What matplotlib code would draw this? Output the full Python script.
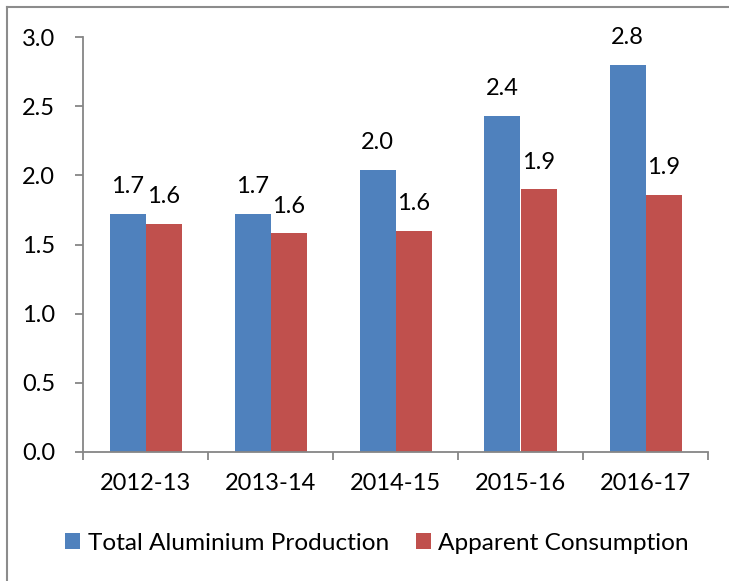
import numpy as np
import matplotlib.pyplot as plt
from matplotlib.lines import Line2D

plt.rcParams['font.family'] = ['Lato', 'DejaVu Sans']

# Data
years = ['2012-13', '2013-14', '2014-15', '2015-16', '2016-17']
production = [1.72, 1.72, 2.04, 2.43, 2.80]
consumption = [1.65, 1.58, 1.60, 1.90, 1.86]
series_names = ['Total Aluminium Production', 'Apparent Consumption']

blue = '#4F81BD'
red = '#C0504D'
fs = 17

W, H = 729, 581
fig = plt.figure(figsize=(W / 100, H / 100), dpi=100)
ax = fig.add_axes([83 / W, 1 - 452 / H, (708 - 83) / W, (452 - 37) / H])

x = np.arange(len(years))
bw = 0.288
b1 = ax.bar(x - bw / 2, production, bw, color=blue, label=series_names[0])
b2 = ax.bar(x + bw / 2, consumption, bw, color=red, label=series_names[1])

# value labels above bars
for bars, vals in ((b1, production), (b2, consumption)):
    for rect, v in zip(bars, vals):
        ax.annotate('%.1f' % v, (rect.get_x() + rect.get_width() / 2, v),
                    xytext=(0, 12), textcoords='offset points',
                    ha='center', va='bottom', fontsize=fs)

ax.set_xlim(-0.5, len(years) - 0.5)
ax.set_ylim(0, 3.0)
ax.set_yticks(np.arange(0, 3.01, 0.5))
ax.set_yticklabels(['%.1f' % t for t in np.arange(0, 3.01, 0.5)])
ax.set_xticks(x)
ax.set_xticklabels(years)
ax.set_xticks(np.arange(-0.5, len(years), 1), minor=True)

for s in ('top', 'right'):
    ax.spines[s].set_visible(False)
for s in ('left', 'bottom'):
    ax.spines[s].set_color('#868686')
    ax.spines[s].set_linewidth(1.3)

ax.tick_params(axis='y', length=6, width=1.3, color='#868686', labelsize=fs, pad=14)
ax.tick_params(axis='x', which='major', length=0, labelsize=fs, pad=15)
ax.tick_params(axis='x', which='minor', length=6, width=1.3, color='#868686')

fig.legend(handles=[b1, b2], loc='center', bbox_to_anchor=(377 / W, 1 - 543 / H),
           ncol=2, frameon=False, fontsize=17.6, handlelength=0.62, handleheight=0.62,
           handletextpad=0.3, columnspacing=1.1)

# outer chart frame (left and top edges visible)
fig.add_artist(Line2D([7 / W, 7 / W], [0, 1 - 7 / H], transform=fig.transFigure,
                      color='#8c8c8c', lw=1.5))
fig.add_artist(Line2D([7 / W, 1], [1 - 7 / H, 1 - 7 / H], transform=fig.transFigure,
                      color='#8c8c8c', lw=1.5))

fig.savefig('out.png', dpi=100)
